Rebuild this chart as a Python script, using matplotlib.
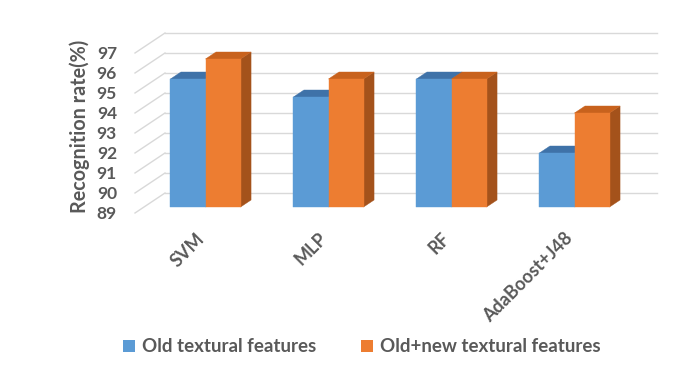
import matplotlib
matplotlib.use("Agg")
import matplotlib.pyplot as plt
from matplotlib.patches import Polygon, Patch
import numpy as np

categories = ["SVM", "MLP", "RF", "AdaBoost+J48"]
old_features = [95.4, 94.5, 95.4, 91.7]
new_features = [96.4, 95.4, 95.4, 93.7]
series_names = ["Old textural features", "Old+new textural features"]
y_ticks = list(range(89, 98))

FONT = "Lato"
TEXT = "#595959"
GRID = "#d9d9d9"
FRONT = ["#5b9bd5", "#ed7d31"]
TOP = ["#3f72a8", "#c8621d"]
SIDE = ["#3a6591", "#a4521b"]

# oblique depth projection: depth t in [0, 1] from floor front edge to back wall
KX, KY = 30 / 123, 1.0
T_FRONT, T_BACK = 0.30, 0.65
BAR_W = 0.285
BASE = 89


def proj(x, v, t):
    return (x + t * KX, v + t * KY)


fig = plt.figure(figsize=(6.9, 3.69), dpi=100)
W, H = 690, 369
ax = fig.add_axes([135 / W, (H - 213) / H, 492 / W, 180 / H])
ax.set_xlim(-0.5, 3.5)
ax.set_ylim(89, 98)
for s in ax.spines.values():
    s.set_visible(False)

# back wall and side wall gridlines
for v in y_ticks:
    a, b = proj(-0.5, v, 1), proj(3.5, v, 1)
    ax.plot([a[0], b[0]], [a[1], b[1]], color=GRID, lw=1.0, zorder=1, clip_on=False)
    c = proj(-0.5, v, 0)
    ax.plot([c[0], a[0]], [c[1], a[1]], color=GRID, lw=1.0, zorder=1, clip_on=False)

# 3D columns
idx = np.arange(len(categories))
for k, vals in enumerate([old_features, new_features]):
    for i, v in zip(idx, vals):
        x0 = i - BAR_W + k * BAR_W
        x1 = x0 + BAR_W
        z = 3 + i * 2 + k
        front = [proj(x0, BASE, T_FRONT), proj(x1, BASE, T_FRONT),
                 proj(x1, v, T_FRONT), proj(x0, v, T_FRONT)]
        top = [proj(x0, v, T_FRONT), proj(x1, v, T_FRONT),
               proj(x1, v, T_BACK), proj(x0, v, T_BACK)]
        side = [proj(x1, BASE, T_FRONT), proj(x1, v, T_FRONT),
                proj(x1, v, T_BACK), proj(x1, BASE, T_BACK)]
        for pts, col in ((side, SIDE[k]), (top, TOP[k]), (front, FRONT[k])):
            ax.add_patch(Polygon(pts, closed=True, facecolor=col, edgecolor=col,
                                 lw=0.3, zorder=z, clip_on=False))

ax.set_yticks(y_ticks)
ax.set_yticklabels([str(t) for t in y_ticks], fontfamily=FONT, fontweight="bold",
                   fontsize=12.5, color=TEXT)
ax.tick_params(axis="y", length=0, pad=13)
ax.set_xticks(idx - 0.01)
ax.set_xticklabels(categories, rotation=45, ha="right", rotation_mode="anchor",
                   fontfamily=FONT, fontweight="bold", fontsize=13, color=TEXT)
ax.tick_params(axis="x", length=0, pad=12)

fig.text(80 / W, 1 - 126 / H, "Recognition rate(%)", rotation=90, ha="center",
         va="center", fontfamily=FONT, fontweight="bold", fontsize=14.2, color=TEXT)

handles = [Patch(facecolor=FRONT[0], edgecolor="none"),
           Patch(facecolor=FRONT[1], edgecolor="none")]
fig.legend(handles, series_names, loc="center", bbox_to_anchor=(362 / W, 1 - 347 / H),
           ncol=2, frameon=False, handlelength=0.6, handleheight=0.6,
           handletextpad=0.4, columnspacing=2.4,
           prop={"family": FONT, "weight": "bold", "size": 13.5}, labelcolor=TEXT)

fig.savefig("out.png", dpi=100, facecolor="white")
